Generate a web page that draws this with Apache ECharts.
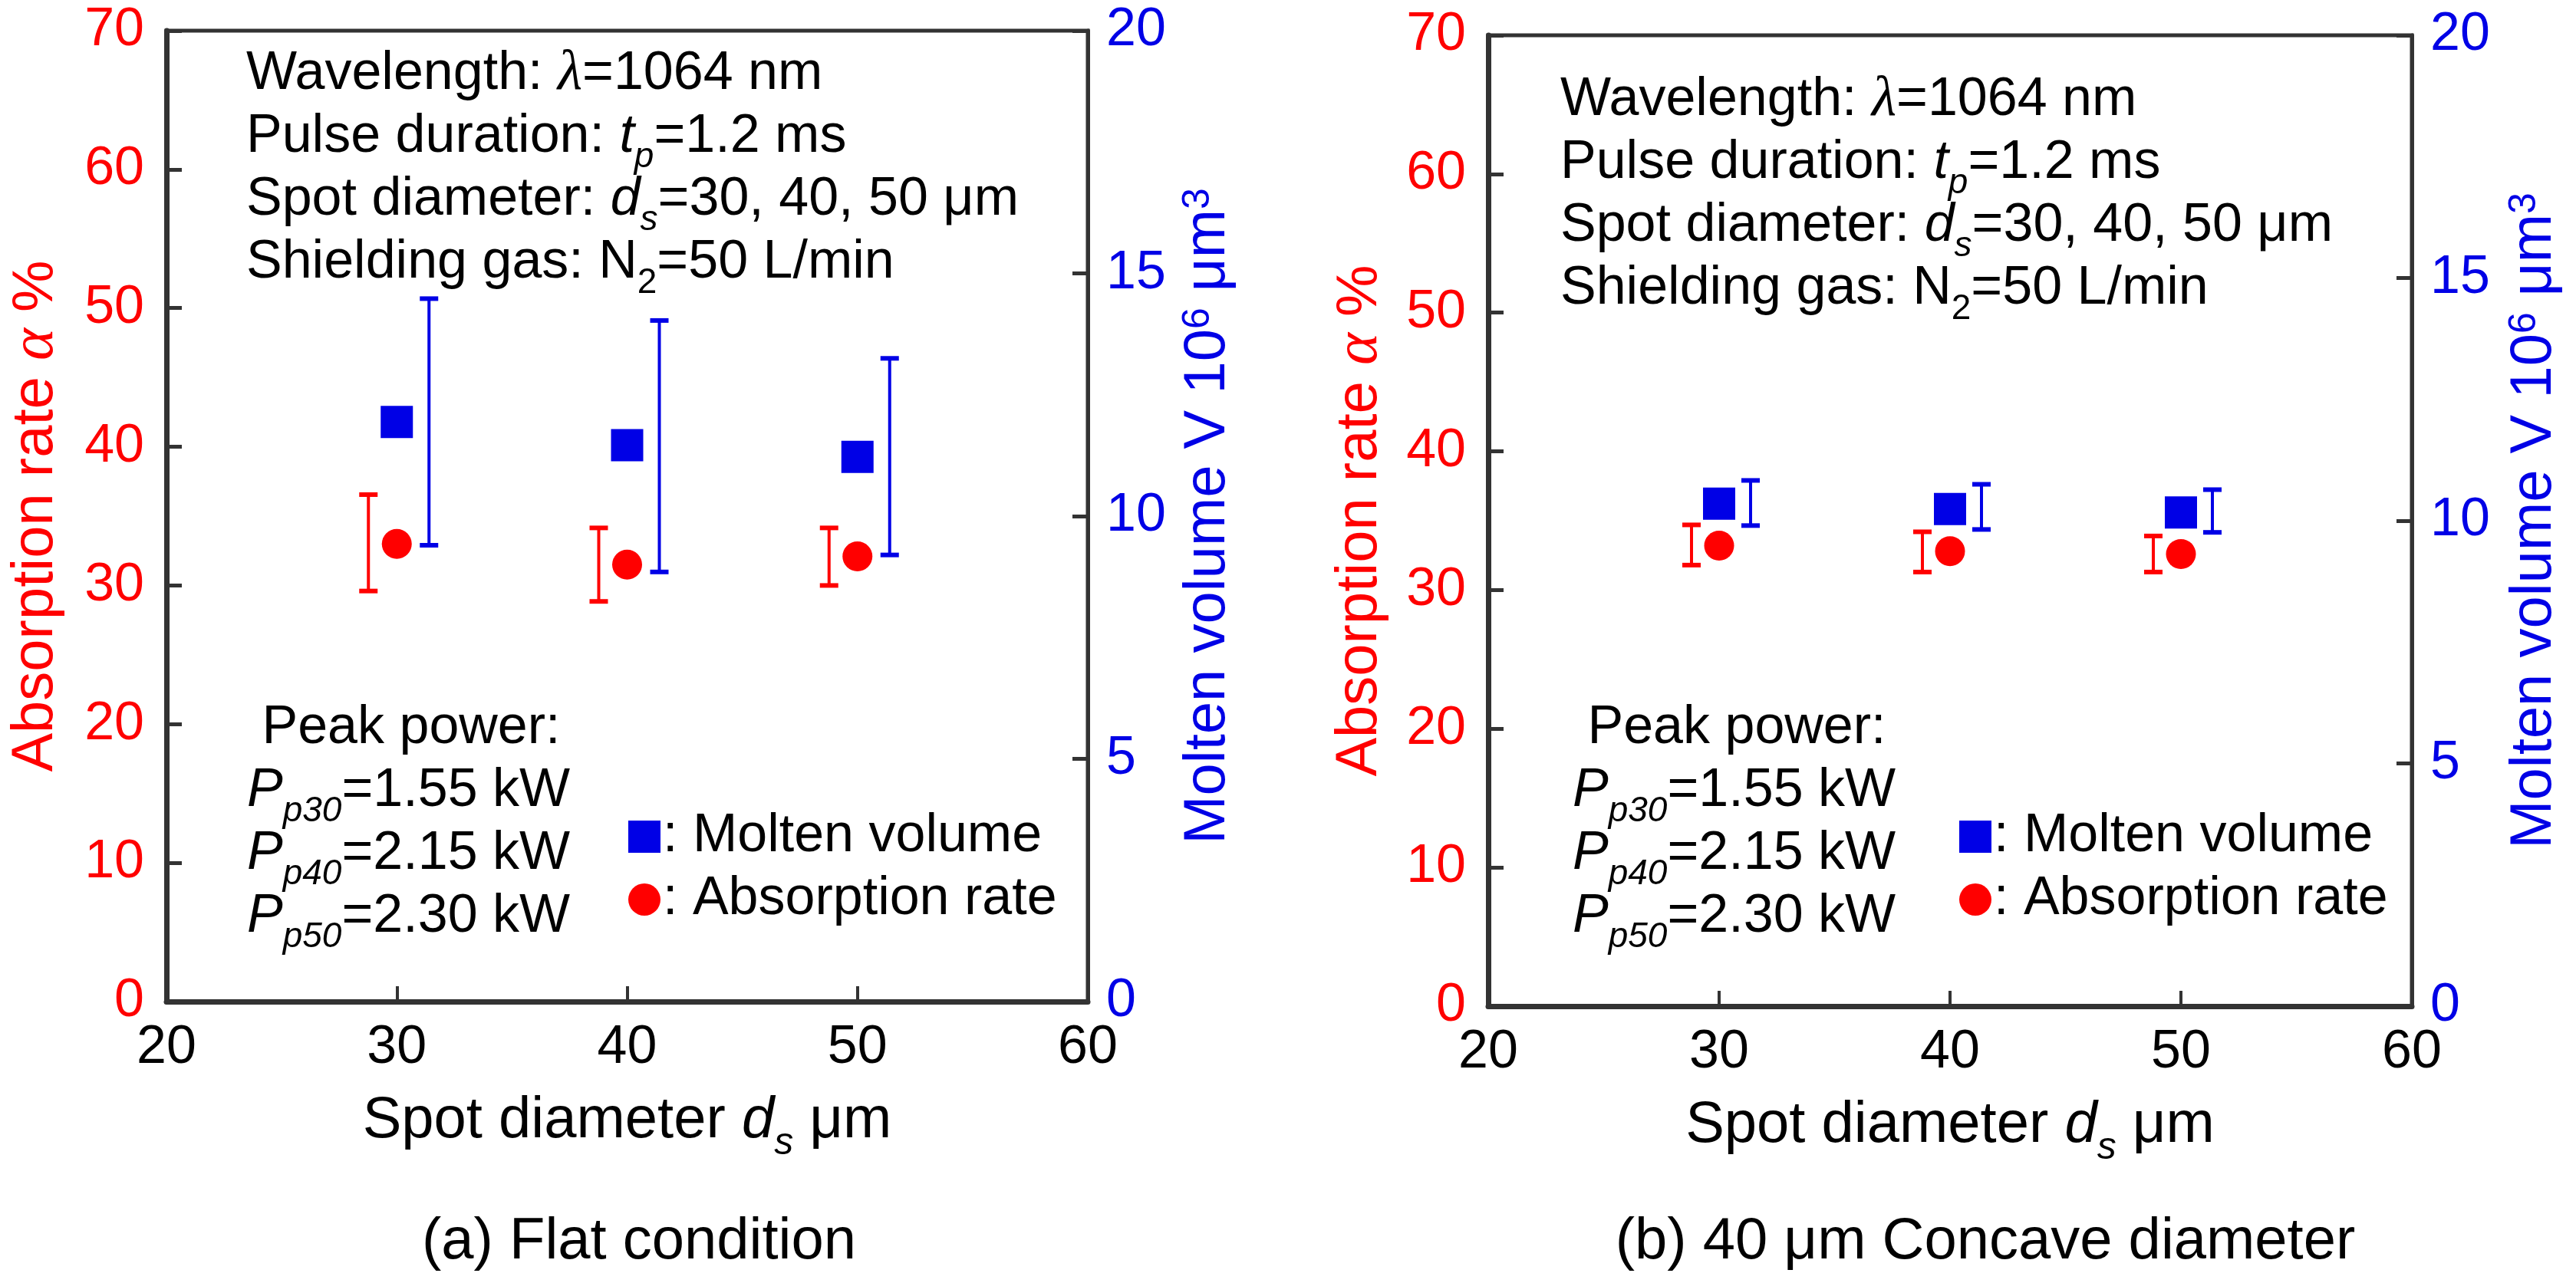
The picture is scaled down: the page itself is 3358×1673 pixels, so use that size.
<!DOCTYPE html>
<html>
<head>
<meta charset="utf-8">
<script src="https://cdn.jsdelivr.net/npm/echarts@6/dist/echarts.min.js"></script>
<style>
html,body{margin:0;padding:0;background:#fff;}
#chart{width:3358px;height:1673px;}
</style>
</head>
<body>
<div id="chart"></div>
<script>
// ---------- data ----------
const spotDiameters = [30, 40, 50];
const xTicks = [20, 30, 40, 50, 60];
const absorptionTicks = [0, 10, 20, 30, 40, 50, 60, 70];
const volumeTicks = [0, 5, 10, 15, 20];

// (a) Flat condition
const flatAbsorption = [33.0, 31.5, 32.1];
const flatAbsorptionLow = [29.6, 28.85, 30.0];
const flatAbsorptionHigh = [36.55, 34.15, 34.15];
const flatVolume = [11.94, 11.46, 11.22];
const flatVolumeLow = [9.4, 8.85, 9.2];
const flatVolumeHigh = [14.48, 14.03, 13.25];

// (b) 40 um concave diameter
const concaveAbsorption = [33.2, 32.8, 32.6];
const concaveAbsorptionLow = [31.8, 31.3, 31.3];
const concaveAbsorptionHigh = [34.7, 34.2, 33.9];
const concaveVolume = [10.35, 10.24, 10.17];
const concaveVolumeLow = [9.9, 9.82, 9.76];
const concaveVolumeHigh = [10.83, 10.75, 10.64];

const captions = ['(a) Flat condition', '(b) 40 \u03bcm Concave diameter'];

// ---------- styles ----------
const FONT = 'Liberation Sans, Arial, sans-serif';
const SERIF = 'Liberation Serif, Times New Roman, serif';
const RED = '#ff0000';
const BLUE = '#0000e6';
const AXIS = '#333333';

const chart = echarts.init(document.getElementById('chart'), null, {renderer: 'canvas'});

function xAxisDef(gridIndex) {
  return {
    type: 'value', gridIndex,
    min: xTicks[0], max: xTicks[xTicks.length - 1], interval: xTicks[1] - xTicks[0],
    name: '{n|Spot diameter }{i|d}{s|s}{n| \u03bcm}',
    nameLocation: 'middle', nameGap: 116,
    nameTextStyle: {
      rich: {
        n: {fontSize: 76, fontFamily: FONT, color: '#000', lineHeight: 80},
        i: {fontSize: 76, fontFamily: FONT, fontStyle: 'italic', color: '#000', lineHeight: 80},
        s: {fontSize: 50, fontFamily: FONT, fontStyle: 'italic', color: '#000', lineHeight: 36, verticalAlign: 'top', padding: [44, 0, 0, 0]}
      }
    },
    axisLine: {show: true, onZero: false, lineStyle: {color: AXIS, width: 7}},
    axisTick: {show: true, inside: true, length: 20, lineStyle: {color: AXIS, width: 4}},
    axisLabel: {color: '#000', fontSize: 70, fontFamily: FONT, margin: 26},
    splitLine: {show: false}
  };
}

function leftAxisDef(gridIndex, gap) {
  return {
    type: 'value', gridIndex, position: 'left',
    min: absorptionTicks[0], max: absorptionTicks[absorptionTicks.length - 1],
    interval: absorptionTicks[1] - absorptionTicks[0],
    name: '{n|Absorption rate }{g|\u03b1}{n| %}',
    nameLocation: 'middle', nameGap: gap,
    nameTextStyle: {
      rich: {
        n: {fontSize: 76, fontFamily: FONT, color: RED, lineHeight: 80},
        g: {fontSize: 80, fontFamily: SERIF, fontStyle: 'italic', color: RED, lineHeight: 80}
      }
    },
    axisLine: {show: true, onZero: false, lineStyle: {color: AXIS, width: 7}},
    axisTick: {show: true, inside: true, length: 20, lineStyle: {color: AXIS, width: 5}},
    axisLabel: {color: RED, fontSize: 70, fontFamily: FONT, margin: 29},
    splitLine: {show: false}
  };
}

function rightAxisDef(gridIndex, gap) {
  return {
    type: 'value', gridIndex, position: 'right',
    min: volumeTicks[0], max: volumeTicks[volumeTicks.length - 1],
    interval: volumeTicks[1] - volumeTicks[0],
    name: '{n|Molten volume V 10}{p|6}{n| \u03bcm}{p|3}',
    nameLocation: 'middle', nameGap: gap,
    nameTextStyle: {
      rich: {
        n: {fontSize: 76, fontFamily: FONT, color: BLUE, lineHeight: 80},
        p: {fontSize: 50, fontFamily: FONT, color: BLUE, lineHeight: 40, verticalAlign: 'top', padding: [2, 0, 0, 0]}
      }
    },
    axisLine: {show: true, onZero: false, lineStyle: {color: AXIS, width: 5}},
    axisTick: {show: true, inside: true, length: 20, lineStyle: {color: AXIS, width: 5}},
    axisLabel: {color: BLUE, fontSize: 70, fontFamily: FONT, margin: 24},
    splitLine: {show: false}
  };
}

function errorBars(name, lo, hi, xi, yi, color, offsetPx) {
  return {
    name, type: 'custom', xAxisIndex: xi, yAxisIndex: yi, silent: true, z: 3,
    data: spotDiameters.map((x, i) => [x, lo[i], hi[i]]),
    encode: {x: 0, y: [1, 2]},
    renderItem: function (params, api) {
      const a = api.coord([api.value(0), api.value(1)]);
      const b = api.coord([api.value(0), api.value(2)]);
      const x = a[0] + offsetPx;
      const cw = 12;
      return {
        type: 'group',
        children: [
          {type: 'line', shape: {x1: x, y1: a[1], x2: x, y2: b[1]}, style: {stroke: color, lineWidth: 4}},
          {type: 'line', shape: {x1: x - cw, y1: a[1], x2: x + cw, y2: a[1]}, style: {stroke: color, lineWidth: 6}},
          {type: 'line', shape: {x1: x - cw, y1: b[1], x2: x + cw, y2: b[1]}, style: {stroke: color, lineWidth: 6}}
        ]
      };
    }
  };
}

function points(name, values, xi, yi, symbol, size, color) {
  return {
    name, type: 'scatter', xAxisIndex: xi, yAxisIndex: yi, z: 4,
    symbol, symbolSize: size,
    itemStyle: {color, opacity: 1},
    data: spotDiameters.map((x, i) => [x, values[i]])
  };
}

// rich text styles for in-plot annotations (zrender style names)
const annRich = {
  n: {fontSize: 70, fontFamily: FONT, fill: '#000', lineHeight: 82},
  i: {fontSize: 70, fontFamily: FONT, fontStyle: 'italic', fill: '#000', lineHeight: 82},
  g: {fontSize: 74, fontFamily: SERIF, fontStyle: 'italic', fill: '#000', lineHeight: 82},
  si: {fontSize: 46, fontFamily: FONT, fontStyle: 'italic', fill: '#000', lineHeight: 36, verticalAlign: 'top', padding: [44, 0, 0, 0]},
  s: {fontSize: 46, fontFamily: FONT, fill: '#000', lineHeight: 36, verticalAlign: 'top', padding: [44, 0, 0, 0]}
};
const conditionsText = [
  '{n|Wavelength: }{g|\u03bb}{n|=1064 nm}',
  '{n|Pulse duration: }{i|t}{si|p}{n|=1.2 ms}',
  '{n|Spot diameter: }{i|d}{si|s}{n|=30, 40, 50 \u03bcm}',
  '{n|Shielding gas: N}{s|2}{n|=50 L/min}'
].join('\n');
const powerText = [
  '{n| Peak power:}',
  '{i|P}{si|p30}{n|=1.55 kW}',
  '{i|P}{si|p40}{n|=2.15 kW}',
  '{i|P}{si|p50}{n|=2.30 kW}'
].join('\n');

function annotation(x, y, text) {
  return {type: 'text', x, y, silent: true, z: 10,
    style: {text, rich: annRich, fontSize: 70, fontFamily: FONT, fill: '#000', align: 'left', verticalAlign: 'top'}};
}
function caption(x, y, text) {
  return {type: 'text', x, y, silent: true, z: 10,
    style: {text, fontSize: 76, fontFamily: FONT, fill: '#000', align: 'center', verticalAlign: 'middle'}};
}

const legendCommon = {
  orient: 'vertical', itemWidth: 42, itemHeight: 42, itemGap: 2,
  formatter: name => ': ' + name,
  textStyle: {fontSize: 70, fontFamily: FONT, color: '#000', lineHeight: 80, padding: [0, 0, 0, -2]},
  selectedMode: false,
  data: [{name: 'Molten volume', icon: 'rect'}, {name: 'Absorption rate', icon: 'circle'}]
};

const option = {
  backgroundColor: '#fff',
  animation: false,
  grid: [
    {left: 217, top: 40, width: 1201, height: 1266, show: true, borderColor: AXIS, borderWidth: 5, backgroundColor: 'transparent', outerBoundsMode: 'none', containLabel: false},
    {left: 1940, top: 46, width: 1204, height: 1266, show: true, borderColor: AXIS, borderWidth: 5, backgroundColor: 'transparent', outerBoundsMode: 'none', containLabel: false}
  ],
  xAxis: [xAxisDef(0), xAxisDef(1)],
  yAxis: [leftAxisDef(0, 130), rightAxisDef(0, 117), leftAxisDef(1, 127), rightAxisDef(1, 120)],
  legend: [
    Object.assign({left: 814, top: 1046}, legendCommon),
    Object.assign({left: 2549, top: 1046}, legendCommon)
  ],
  series: [
    errorBars('flat abs err', flatAbsorptionLow, flatAbsorptionHigh, 0, 0, RED, -37),
    errorBars('flat vol err', flatVolumeLow, flatVolumeHigh, 0, 1, BLUE, 42),
    points('Molten volume', flatVolume, 0, 1, 'rect', 42, BLUE),
    points('Absorption rate', flatAbsorption, 0, 0, 'circle', 39, RED),
    errorBars('concave abs err', concaveAbsorptionLow, concaveAbsorptionHigh, 1, 2, RED, -36),
    errorBars('concave vol err', concaveVolumeLow, concaveVolumeHigh, 1, 3, BLUE, 41),
    points('Molten volume', concaveVolume, 1, 3, 'rect', 42, BLUE),
    points('Absorption rate', concaveAbsorption, 1, 2, 'circle', 39, RED)
  ],
  graphic: [
    annotation(321, 56, conditionsText),
    annotation(2034, 90, conditionsText),
    annotation(322, 909, powerText),
    annotation(2050, 909, powerText),
    caption(833, 1620, captions[0]),
    caption(2588, 1620, captions[1])
  ]
};
chart.setOption(option);
</script>
</body>
</html>
